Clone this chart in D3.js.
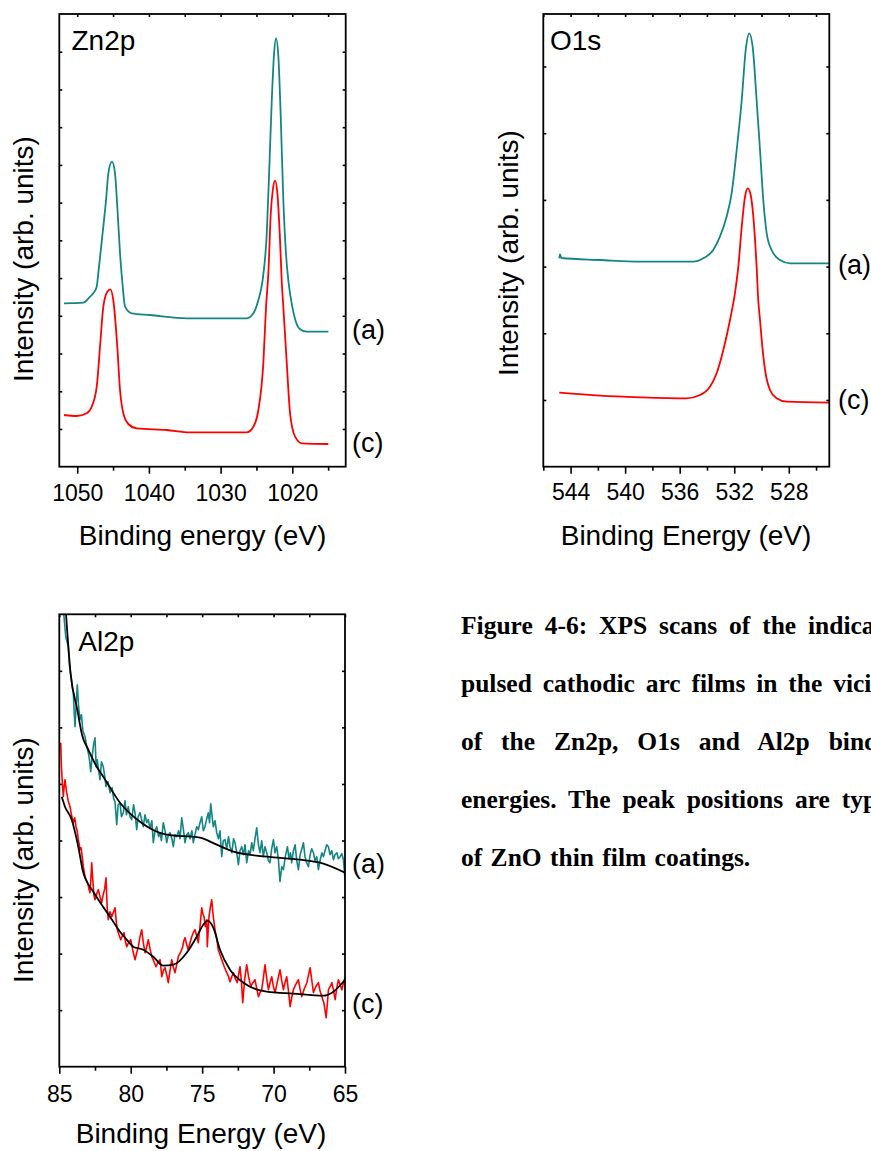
<!DOCTYPE html>
<html>
<head>
<meta charset="utf-8">
<script src="https://cdn.jsdelivr.net/npm/d3@7/dist/d3.min.js"></script>
<style>
  html, body { margin: 0; padding: 0; background: #fff; }
  svg { display: block; }
  text { font-family: "Liberation Sans", Arial, sans-serif; fill: #000; }
  .caption { font-family: "Liberation Serif", "Times New Roman", serif; font-weight: bold; font-size: 25.5px; }
</style>
</head>
<body>
<svg id="fig" width="871" height="1151"></svg>
<script>
// ---- Zn2p region: [binding energy (eV), intensity (arb. units)] ----
const zn2pA = [[1051.84,163.4],[1050.5,163.6],[1049.15,164],[1048.22,170],[1047.76,173.4],[1047.28,180],[1047.06,193.4],[1046.36,240],[1045.98,266.7],[1045.66,293.4],[1045.15,305],[1044.73,293.4],[1044.41,260],[1044.03,213.4],[1043.65,180],[1043.33,160],[1042.4,153.4],[1039.84,151.7],[1034.72,148.4],[1026.35,148.4],[1025.43,153.4],[1024.73,166.7],[1024.15,186],[1023.56,233.4],[1023.2,300],[1022.86,366.7],[1022.54,413.4],[1022.26,428.4],[1021.94,410],[1021.61,350],[1021.25,266.7],[1020.87,212],[1020.5,183],[1020.0,160],[1019.5,145],[1019.0,138],[1017.98,135],[1014.97,135]];
const zn2pC = [[1051.84,51.7],[1050.07,50.7],[1048.68,53.4],[1047.98,60],[1047.28,80],[1046.82,120],[1046.36,160],[1045.80,175],[1045.38,177.4],[1044.97,166.7],[1044.41,120],[1044.03,76.7],[1043.57,53.4],[1042.87,42.7],[1041.70,38.4],[1037.51,36.7],[1034.26,34.4],[1026.35,34.4],[1025.43,40],[1024.73,56.7],[1024.04,103.4],[1023.66,160],[1023.34,193.4],[1023.00,253.4],[1022.72,276.7],[1022.40,286],[1022.08,273.4],[1021.71,226.7],[1021.47,185],[1021.25,160],[1020.77,103.4],[1020.31,53.4],[1019.61,30],[1018.68,23.4],[1014.97,22.7]];

// ---- O1s region ----
const o1sA = [[544.83,208.4],[544.78,212.2],[544.67,208.7],[541.84,206.7],[538.91,205],[535.00,205],[534.27,208.4],[533.54,216.7],[533.05,230],[532.56,250],[532.19,273.4],[531.82,316.7],[531.45,366.7],[531.16,416.7],[530.90,433.4],[530.65,420],[530.36,366.7],[530.11,316.7],[529.87,266.7],[529.62,233.4],[529.26,216.7],[528.65,206.7],[527.91,203.4],[525.03,203.4]];
const o1sC = [[544.83,74],[541.84,71],[538.91,69.4],[535.49,68.4],[534.51,71.7],[533.78,80],[533.29,93.4],[532.80,116.7],[532.31,146.7],[531.95,173.4],[531.70,200],[531.45,240],[531.21,270],[531.01,278.4],[530.82,273.4],[530.60,250],[530.36,200],[530.24,166.7],[530.11,146.7],[529.94,120],[529.74,96.7],[529.38,76.7],[528.89,68.4],[528.16,65],[525.03,64]];

// ---- Al2p region: raw spectra and smoothed fits ----
const al2pA = [[84.80,480],[84.70,455],[84.55,430],[84.37,420],[84.28,400],[84.20,392],[84.10,380],[84.02,374],[83.95,352],[83.90,340],[83.82,362],[83.74,382],[83.65,360],[83.55,347],[83.45,352],[83.35,336],[83.20,330],[83.10,322],[82.97,314],[82.88,306],[82.80,295],[82.70,310],[82.60,322],[82.50,329],[82.42,300],[82.34,307],[82.25,296],[82.15,287],[82.05,305],[81.92,300],[81.82,290],[81.73,280],[81.60,285],[81.45,274],[81.30,279],[81.20,268],[81.10,265],[80.98,242],[80.88,262],[80.75,264],[80.65,250],[80.52,254],[80.40,266],[80.30,252],[80.17,260],[80.05,250],[79.93,247],[79.80,262],[79.70,254],[79.58,237],[79.48,250],[79.35,254],[79.22,246],[79.12,240],[79.00,252],[78.88,244],[78.77,247],[78.65,238],[78.52,246],[78.42,224],[78.30,236],[78.18,240],[78.05,230],[77.95,234],[77.85,226],[77.72,244],[77.60,236],[77.48,224],[77.36,232],[77.25,234],[77.12,228],[77.02,220],[76.90,232],[76.78,230],[76.65,236],[76.55,228],[76.43,249],[76.32,238],[76.20,224],[76.08,232],[75.97,234],[75.85,228],[75.72,236],[75.62,224],[75.50,232],[75.38,240],[75.27,237],[75.15,244],[75.03,250],[74.92,236],[74.80,240],[74.68,248],[74.57,254],[74.48,244],[74.40,263],[74.30,250],[74.22,240],[74.10,246],[73.98,234],[73.86,228],[73.75,236],[73.63,210],[73.52,226],[73.40,227],[73.28,218],[73.15,230],[73.05,220],[72.92,214],[72.80,228],[72.70,224],[72.58,214],[72.46,202],[72.35,216],[72.23,220],[72.10,212],[72.00,222],[71.88,204],[71.75,216],[71.64,212],[71.53,224],[71.42,216],[71.30,228],[71.18,239],[71.06,222],[70.95,214],[70.83,226],[70.72,210],[70.60,220],[70.48,214],[70.36,206],[70.25,204],[70.13,218],[70.01,227],[69.90,214],[69.78,220],[69.66,207],[69.55,185],[69.43,200],[69.31,197],[69.18,210],[69.03,220],[68.92,208],[68.82,214],[68.73,204],[68.61,216],[68.49,222],[68.38,206],[68.26,197],[68.14,212],[68.02,218],[67.91,224],[67.80,210],[67.68,204],[67.56,200],[67.44,212],[67.33,218],[67.21,214],[67.10,206],[66.98,210],[66.86,197],[66.75,206],[66.62,214],[66.51,210],[66.40,216],[66.28,222],[66.16,220],[66.05,212],[65.92,216],[65.81,207],[65.70,212],[65.57,214],[65.46,208],[65.34,210],[65.22,213],[65.11,207],[65.00,187]];
const al2pAFit = [[84.64,477],[84.20,392],[83.74,357],[83.41,332],[82.97,317],[82.38,300],[81.92,290],[80.75,264],[79.35,245],[77.48,232],[75.15,229],[73.98,222],[72.81,215],[70.48,210],[68.14,207],[66.74,204],[65.00,194]];
const al2pC = [[84.90,324],[84.85,300],[84.78,282],[84.72,270],[84.66,280],[84.60,287],[84.54,280],[84.48,274],[84.38,266],[84.25,260],[84.15,252],[84.02,244],[83.92,249],[83.83,240],[83.75,236],[83.67,227],[83.60,222],[83.55,217],[83.48,219],[83.43,214],[83.38,208],[83.32,200],[83.22,192],[83.13,187],[83.02,184],[82.93,178],[82.85,174],[82.78,190],[82.73,204],[82.65,186],[82.58,172],[82.50,167],[82.40,172],[82.27,177],[82.15,170],[82.03,164],[81.93,172],[81.82,178],[81.73,189],[81.65,160],[81.57,147],[81.45,155],[81.33,150],[81.20,155],[81.10,159],[81.02,146],[80.94,137],[80.82,132],[80.70,127],[80.58,131],[80.47,134],[80.38,126],[80.28,120],[80.15,124],[80.00,127],[79.85,116],[79.70,107],[79.58,114],[79.47,120],[79.35,130],[79.23,137],[79.12,124],[79.00,114],[78.88,120],[78.77,127],[78.65,118],[78.53,110],[78.40,106],[78.23,100],[78.10,104],[77.95,107],[77.88,98],[77.83,90],[77.72,96],[77.60,99],[77.48,92],[77.37,84],[77.25,96],[77.13,107],[77.02,100],[76.90,94],[76.78,102],[76.67,110],[76.52,114],[76.36,120],[76.28,126],[76.20,129],[76.08,122],[75.97,117],[75.85,124],[75.73,130],[75.62,134],[75.50,137],[75.38,131],[75.27,124],[75.15,140],[75.03,159],[74.95,153],[74.87,150],[74.78,140],[74.68,147],[74.64,120],[74.52,150],[74.42,160],[74.33,167],[74.22,150],[74.10,137],[73.98,128],[73.87,117],[73.75,112],[73.63,107],[73.45,100],[73.28,94],[73.15,90],[73.05,85],[72.93,90],[72.81,94],[72.68,88],[72.54,84],[72.45,92],[72.35,100],[72.25,85],[72.16,64],[72.02,88],[71.88,102],[71.75,90],[71.60,80],[71.45,84],[71.30,87],[71.18,78],[71.06,70],[70.95,74],[70.83,77],[70.72,88],[70.60,102],[70.48,88],[70.36,77],[70.25,84],[70.13,90],[70.01,80],[69.89,74],[69.72,86],[69.55,97],[69.43,86],[69.31,77],[69.20,84],[69.08,90],[68.96,76],[68.84,60],[68.72,70],[68.61,77],[68.45,82],[68.26,87],[68.15,78],[68.03,70],[67.85,78],[67.67,84],[67.55,92],[67.44,99],[67.32,86],[67.21,74],[67.05,80],[66.86,84],[66.75,76],[66.62,70],[66.48,64],[66.32,49],[66.24,62],[66.16,77],[66.04,80],[65.92,84],[65.80,76],[65.69,67],[65.58,78],[65.46,87],[65.34,82],[65.22,77],[65.11,84],[65.00,89]];
const al2pCFit = [[84.83,270],[84.60,260],[84.13,247],[83.67,220],[83.32,194],[83.20,189],[82.62,175],[82.03,162],[81.45,150],[80.75,135],[80.28,127],[79.82,120],[79.12,117],[78.42,110],[77.72,101],[77.02,102],[76.08,114],[75.38,130],[74.92,142],[74.61,146],[74.22,139],[73.75,117],[73.05,97],[72.11,84],[70.48,75],[68.61,73],[66.51,71],[65.81,75],[65.00,87]];

// ---- axis tick labels ----
const zn2pTicks = [1050, 1040, 1030, 1020];
const o1sTicks = [544, 540, 536, 532, 528];
const al2pTicks = [85, 80, 75, 70, 65];

const teal = "#148585", red = "#ff0000";
const svg = d3.select("#fig");
svg.append("rect").attr("width", 871).attr("height", 1151).attr("fill", "#fff");

function panel(cfg) {
  const { left, top, right, bottom } = cfg.box;
  const x = d3.scaleLinear().domain(cfg.xDomain).range([left, right]);
  const y = d3.scaleLinear().domain(cfg.yDomain).range([bottom, top]);
  const g = svg.append("g");
  const clipId = "clip-" + cfg.id;
  g.append("clipPath").attr("id", clipId)
    .append("rect").attr("x", left).attr("y", top).attr("width", right - left).attr("height", bottom - top);

  const lo = Math.min(...cfg.xDomain), hi = Math.max(...cfg.xDomain);
  const minor = d3.range(Math.ceil(lo / cfg.minorStep) * cfg.minorStep, hi + 1e-9, cfg.minorStep)
    .filter(v => !cfg.ticks.some(t => Math.abs(t - v) < 1e-6));
  const allX = cfg.ticks.concat(minor);
  const yTicks = d3.range(1, cfg.yTickCount).map(k => k * cfg.yTickStep).filter(v => v < cfg.yDomain[1]);

  // bottom axis: labelled major ticks plus short minor ticks, pointing outward
  const bx = g.append("g").attr("transform", `translate(0,${bottom})`)
    .call(d3.axisBottom(x).tickValues(cfg.ticks).tickSize(7).tickFormat(d3.format("d")));
  bx.selectAll("text").attr("y", cfg.labelDy).attr("dy", 0).style("font-size", "23px");
  g.append("g").attr("transform", `translate(0,${bottom})`)
    .call(d3.axisBottom(x).tickValues(minor).tickSize(4).tickFormat(""));
  // top / left / right: small inward ticks
  g.append("g").attr("transform", `translate(0,${top})`)
    .call(d3.axisTop(x).tickValues(allX).tickSize(-3).tickFormat(""));
  g.append("g").attr("transform", `translate(${left},0)`)
    .call(d3.axisLeft(y).tickValues(yTicks).tickSize(-3).tickFormat(""));
  g.append("g").attr("transform", `translate(${right},0)`)
    .call(d3.axisRight(y).tickValues(yTicks).tickSize(-3).tickFormat(""));
  g.selectAll(".domain").remove();
  g.selectAll(".tick line").attr("stroke", "#000").attr("stroke-width", 1.6);

  const plot = g.append("g").attr("clip-path", `url(#${clipId})`);
  cfg.series.forEach(s => {
    const line = d3.line().x(d => x(d[0])).y(d => y(d[1]))
      .curve(s.smooth ? d3.curveMonotoneX : d3.curveLinear);
    plot.append("path").datum(s.data).attr("d", line)
      .attr("fill", "none").attr("stroke", s.color).attr("stroke-width", s.width || 1.8)
      .attr("stroke-linejoin", "round");
  });

  g.append("rect").attr("x", left).attr("y", top).attr("width", right - left).attr("height", bottom - top)
    .attr("fill", "none").attr("stroke", "#000").attr("stroke-width", 1.8);

  // panel name, curve tags, axis titles
  g.append("text").attr("x", cfg.name.x).attr("y", cfg.name.y).style("font-size", "28px").text(cfg.name.text);
  cfg.tags.forEach(t => g.append("text").attr("x", t.x).attr("y", t.y).style("font-size", "27px").text(t.text));
  g.append("text").attr("x", cfg.xTitle.x).attr("y", cfg.xTitle.y).attr("text-anchor", "middle")
    .style("font-size", "28px").text(cfg.xTitle.text);
  g.append("text").attr("transform", `translate(${cfg.yTitle.x},${cfg.yTitle.y}) rotate(-90)`)
    .attr("text-anchor", "middle").style("font-size", "28px").text("Intensity (arb. units)");
}

panel({
  id: "zn", box: { left: 59.3, top: 14, right: 345.7, bottom: 466.7 },
  xDomain: [1052.5, 1012.55], yDomain: [0, 452.7], ticks: zn2pTicks, minorStep: 5,
  yTickStep: 452.7 / 12, yTickCount: 12, labelDy: 34,
  series: [{ data: zn2pA, color: teal, smooth: true }, { data: zn2pC, color: red, smooth: true }],
  name: { x: 71.5, y: 50, text: "Zn2p" },
  tags: [{ x: 352, y: 339, text: "(a)" }, { x: 352, y: 452, text: "(c)" }],
  xTitle: { x: 202.5, y: 545, text: "Binding energy (eV)" },
  yTitle: { x: 33, y: 259 }
});

panel({
  id: "o", box: { left: 543.3, top: 14, right: 829.3, bottom: 466.7 },
  xDomain: [546, 525.03], yDomain: [0, 452.7], ticks: o1sTicks, minorStep: 2,
  yTickStep: 66.7, yTickCount: 7, labelDy: 33.5,
  series: [{ data: o1sA, color: teal, smooth: true }, { data: o1sC, color: red, smooth: true }],
  name: { x: 550, y: 50, text: "O1s" },
  tags: [{ x: 838, y: 274, text: "(a)" }, { x: 838, y: 409, text: "(c)" }],
  xTitle: { x: 686, y: 545, text: "Binding Energy (eV)" },
  yTitle: { x: 518, y: 253 }
});

panel({
  id: "al", box: { left: 59.3, top: 614.3, right: 345, bottom: 1066.7 },
  xDomain: [85, 65], yDomain: [0, 452.4], ticks: al2pTicks, minorStep: 2.5,
  yTickStep: 452.4 / 8, yTickCount: 8, labelDy: 35,
  series: [
    { data: al2pA, color: teal, width: 1.6 }, { data: al2pC, color: red, width: 1.6 },
    { data: al2pAFit, color: "#000", smooth: true, width: 1.8 }, { data: al2pCFit, color: "#000", smooth: true, width: 1.8 }
  ],
  name: { x: 78.3, y: 650.7, text: "Al2p" },
  tags: [{ x: 352, y: 873, text: "(a)" }, { x: 352, y: 1013, text: "(c)" }],
  xTitle: { x: 201, y: 1143, text: "Binding Energy (eV)" },
  yTitle: { x: 33, y: 860 }
});

// figure caption (justified lines running past the page edge)
const captionLines = [
  { text: "Figure 4-6: XPS scans of the indicated", ws: 5.5 },
  { text: "pulsed cathodic arc films in the vicinity", ws: 4.5 },
  { text: "of the Zn2p, O1s and Al2p binding", ws: 12.5 },
  { text: "energies. The peak positions are typical", ws: 5.5 },
  { text: "of ZnO thin film coatings.", ws: 2 }
];
const baselines = [634.3, 692, 750, 808, 866];
captionLines.forEach((l, i) => {
  svg.append("text").attr("class", "caption").attr("x", 461).attr("y", baselines[i])
    .attr("word-spacing", l.ws).text(l.text);
});
</script>
</body>
</html>
